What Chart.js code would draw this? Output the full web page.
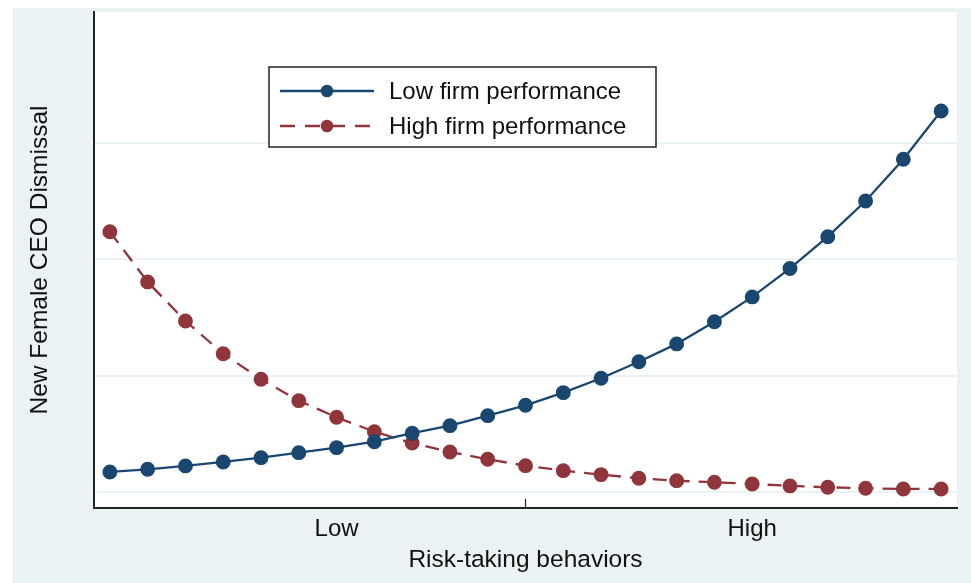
<!DOCTYPE html>
<html>
<head>
<meta charset="utf-8">
<script src="https://cdn.jsdelivr.net/npm/chart.js@4/dist/chart.umd.min.js"></script>
<style>
  html, body { margin: 0; padding: 0; background: #fff; }
  #wrap { width: 971px; height: 583px; }
</style>
</head>
<body>
<div id="wrap"><canvas id="riskChart"></canvas></div>
<script>
// risk-taking steps (0 = lowest, 22 = highest)
const steps = [0,1,2,3,4,5,6,7,8,9,10,11,12,13,14,15,16,17,18,19,20,21,22];
const lowPerf = [0.0172,0.0195,0.0224,0.0258,0.0295,0.0338,0.0381,0.0432,0.0505,0.0570,0.0656,0.0745,
                 0.0854,0.0978,0.1120,0.1273,0.1464,0.1677,0.1922,0.2195,0.2502,0.2861,0.3276];
const highPerf = [0.2238,0.1806,0.1470,0.1189,0.0969,0.0785,0.0642,0.0518,0.0421,0.0344,0.0281,0.0226,
                  0.0183,0.0149,0.0118,0.0097,0.0083,0.0069,0.0052,0.0040,0.0032,0.0026,0.0026];
const xTickVals = [6, 11, 17];
const xTickLabels = ['Low', '', 'High'];
const yGrid = [0, 0.1, 0.2, 0.3];

const navy = '#1a476f';
const maroon = '#90353b';
const bgTint = '#eaf2f3';
const fontFam = 'Arial, "Liberation Sans", sans-serif';

const toPts = vals => vals.map((v, i) => ({x: steps[i], y: v}));

const frameBg = {
    id: 'frameBg',
    beforeDraw(chart) {
        const c = chart.ctx, a = chart.chartArea;
        c.save();
        c.fillStyle = '#fff';
        c.fillRect(0, 0, chart.width, chart.height);
        c.fillStyle = bgTint;
        c.fillRect(13, 8, chart.width - 13, chart.height - 8);
        c.fillStyle = '#fff';
        c.fillRect(a.left, a.top, a.right - a.left, a.bottom - a.top);
        c.restore();
    }
};

const boxLegend = {
    id: 'boxLegend',
    afterDraw(chart) {
        const c = chart.ctx;
        const x0 = 269, y0 = 67, w = 387, h = 80;
        c.save();
        c.fillStyle = '#fff';
        c.fillRect(x0, y0, w, h);
        c.strokeStyle = '#222';
        c.lineWidth = 1.5;
        c.strokeRect(x0, y0, w, h);
        chart.data.datasets.forEach((ds, i) => {
            const y = y0 + 24 + i * 35;
            c.strokeStyle = ds.borderColor;
            c.lineWidth = ds.borderWidth;
            c.setLineDash(ds.borderDash ? [15, 10] : []);
            c.beginPath();
            c.moveTo(280, y);
            c.lineTo(374, y);
            c.stroke();
            c.setLineDash([]);
            c.fillStyle = ds.pointBackgroundColor;
            c.beginPath();
            c.arc(327, y, ds.pointRadius, 0, Math.PI * 2);
            c.fill();
            c.fillStyle = '#111';
            c.font = '24px ' + fontFam;
            c.textBaseline = 'middle';
            c.fillText(ds.label, 389, y + 1);
        });
        c.restore();
    }
};

new Chart(document.getElementById('riskChart'), {
    type: 'line',
    plugins: [frameBg, boxLegend],
    data: {
        datasets: [{
            label: 'Low firm performance',
            data: toPts(lowPerf),
            borderColor: navy,
            backgroundColor: navy,
            pointBackgroundColor: navy,
            pointBorderColor: navy,
            borderWidth: 2.3,
            pointRadius: 6.3,
            tension: 0
        }, {
            label: 'High firm performance',
            data: toPts(highPerf),
            borderColor: maroon,
            backgroundColor: maroon,
            pointBackgroundColor: maroon,
            pointBorderColor: maroon,
            borderWidth: 2.3,
            borderDash: [14, 9],
            pointRadius: 6.3,
            tension: 0
        }]
    },
    options: {
        responsive: true,
        maintainAspectRatio: false,
        animation: false,
        layout: { padding: { top: 12, right: 14, left: 0, bottom: 0 } },
        plugins: { legend: { display: false }, tooltip: { enabled: false } },
        scales: {
            x: {
                type: 'linear',
                min: -0.42,
                max: 22.42,
                afterBuildTicks: s => { s.ticks = xTickVals.map(v => ({value: v})); },
                afterFit: s => { s.height = 75; },
                ticks: {
                    callback: (v) => xTickLabels[xTickVals.indexOf(v)],
                    font: { family: fontFam, size: 24 },
                    color: '#111',
                    padding: 16,
                    maxRotation: 0,
                    autoSkip: false
                },
                grid: {
                    drawOnChartArea: false,
                    tickLength: -9,
                    tickWidth: 1.2,
                    tickColor: ctx => (ctx.tick && ctx.tick.value === 11) ? '#222' : 'rgba(0,0,0,0)'
                },
                border: { display: true, color: '#222', width: 2 },
                title: {
                    display: true,
                    text: 'Risk-taking behaviors',
                    font: { family: fontFam, size: 24.5 },
                    color: '#111',
                    padding: { top: 0, bottom: 8 }
                }
            },
            y: {
                min: -0.0138,
                max: 0.4127,
                afterBuildTicks: s => { s.ticks = yGrid.map(v => ({value: v})); },
                afterFit: s => { s.width = 94; },
                ticks: { display: false },
                grid: { color: bgTint, lineWidth: 2, drawTicks: false },
                border: { display: true, color: '#222', width: 2 },
                title: {
                    display: true,
                    text: 'New Female CEO Dismissal',
                    font: { family: fontFam, size: 24.5 },
                    color: '#111',
                    padding: { top: 26, bottom: 0 }
                }
            }
        }
    }
});
</script>
</body>
</html>
